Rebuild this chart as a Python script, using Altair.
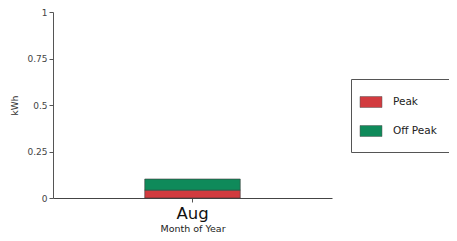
import altair as alt
import pandas as pd

months = ["Aug", "Aug"]
series = ["Peak", "Off Peak"]
values = [0.042, 0.06]
order = [0, 1]

df = pd.DataFrame({"month": months, "series": series, "kwh": values, "order": order})

font = "DejaVu Sans"

chart = alt.Chart(df).mark_bar(stroke="#3a3a3a", strokeWidth=0.6).encode(
    x=alt.X("month:N", title="Month of Year",
            scale=alt.Scale(paddingInner=0.49, paddingOuter=0.49),
            axis=alt.Axis(labelAngle=0, labelFontSize=16.5, labelColor="#111",
                          labelFont=font, titleFont=font, titleFontSize=9.5,
                          titleFontWeight="normal", titleColor="#222",
                          titleY=33, titleBaseline="alphabetic",
                          tickColor="#555", tickSize=4, domainColor="#444",
                          labelPadding=3)),
    y=alt.Y("kwh:Q", title="kWh", stack="zero",
            scale=alt.Scale(domain=[0, 1]),
            axis=alt.Axis(values=[0, 0.25, 0.5, 0.75, 1], labelExpr="'' + datum.value", grid=False,
                          labelFontSize=9, labelColor="#444", labelFont=font,
                          titleFont=font, titleFontSize=9, titleFontWeight="normal",
                          titleColor="#333", tickColor="#555", tickSize=4,
                          domainColor="#555", titlePadding=7, labelPadding=2)),
    color=alt.Color("series:N",
                    scale=alt.Scale(domain=["Peak", "Off Peak"], range=["#d23b3f", "#0f8a5a"]),
                    legend=alt.Legend(title=" ", titleFontSize=3, titlePadding=0,
                                      orient="none", legendX=298, legendY=67,
                                      strokeColor="#555", padding=14,
                                      symbolType="M-2,-1H2V1H-2Z", symbolSize=121,
                                      symbolStrokeColor="#555", symbolStrokeWidth=0.5,
                                      labelFont=font, labelFontSize=10.5, labelColor="#222",
                                      rowPadding=15, labelOffset=16, symbolOpacity=1)),
    order=alt.Order("order:Q"),
).properties(
    width=279, height=186,
    autosize=alt.AutoSizeParams(type="none"),
    padding={"left": 45, "top": 4, "right": 117, "bottom": 35},
    background="white",
).configure_view(strokeWidth=0)

chart.save("out.html", embed_options={"renderer": "svg", "actions": False})
